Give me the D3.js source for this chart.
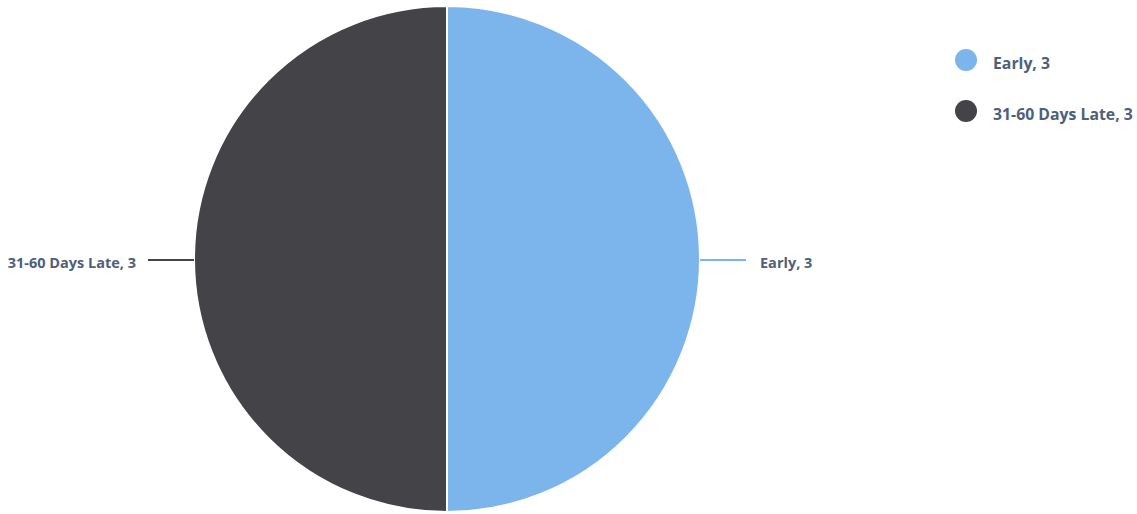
<!DOCTYPE html>
<html>
<head>
<meta charset="utf-8">
<script src="https://cdn.jsdelivr.net/npm/d3@7"></script>
<style>
  body { margin: 0; background: #fff; }
  text { font-family: "Open Sans", sans-serif; font-weight: 700; }
</style>
</head>
<body>
<svg id="chart"></svg>
<script>
// data
var categories = ["Early", "31-60 Days Late"];
var values = [3, 3];
var colors = ["#7cb5ec", "#434348"];

var svgWidth = 1137;
var svgHeight = 514;
var cx = 447, cy = 259;  // pie center
var radius = 253;
var textColor = "#4e5f79";

var svg = d3.select("#chart")
  .attr("width", svgWidth)
  .attr("height", svgHeight);

var data = categories.map(function(c, i){ return {name: c, value: values[i], color: colors[i]}; });

var pie = d3.pie().sort(null).value(function(d){ return d.value; });
var arc = d3.arc().innerRadius(0).outerRadius(radius);
var arcs = pie(data);

var g = svg.append("g").attr("transform", "translate(" + cx + "," + cy + ")");

g.selectAll("path.slice")
  .data(arcs)
  .enter()
  .append("path")
  .attr("class", "slice")
  .attr("d", arc)
  .attr("fill", function(d){ return d.data.color; })
  .attr("stroke", "#fff")
  .attr("stroke-width", 2)
  .attr("stroke-linejoin", "round");

// connectors + labels
var connLen = 46;
arcs.forEach(function(d){
  var mid = (d.startAngle + d.endAngle) / 2;
  var sx = Math.sin(mid), sy = -Math.cos(mid);
  var x0 = sx * radius, y0 = sy * radius;
  var right = sx >= 0;
  var x1 = x0 + (right ? connLen : -connLen);
  g.append("path")
    .attr("d", "M" + x0 + "," + (y0 + 1) + "L" + x1 + "," + (y0 + 1))
    .attr("stroke", d.data.color)
    .attr("stroke-width", 2)
    .attr("fill", "none");
  g.append("text")
    .attr("x", x1 + (right ? 14 : -12))
    .attr("y", y0 + 9)
    .attr("text-anchor", right ? "start" : "end")
    .attr("fill", textColor)
    .attr("font-size", 14.5)
    .text(d.data.name + ", " + d.data.value);
});

// legend
var legend = svg.append("g").attr("transform", "translate(966,60)");
var items = legend.selectAll("g.item")
  .data(data)
  .enter()
  .append("g")
  .attr("class", "item")
  .attr("transform", function(d, i){ return "translate(0," + (i * 51) + ")"; });

items.append("circle")
  .attr("r", 11)
  .attr("fill", function(d){ return d.color; });

items.append("text")
  .attr("x", 27)
  .attr("y", 9)
  .attr("fill", textColor)
  .attr("font-size", 15.8)
  .text(function(d){ return d.name + ", " + d.value; });
</script>
</body>
</html>
